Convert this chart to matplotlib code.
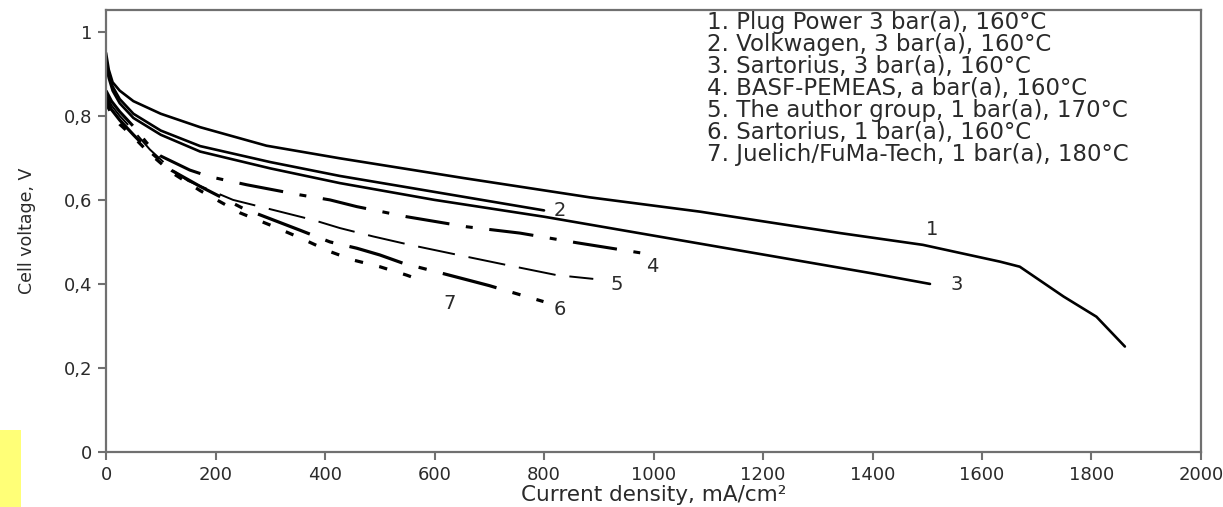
import numpy as np
import matplotlib
matplotlib.use("Agg")
import matplotlib.pyplot as plt
from matplotlib.patches import Rectangle

# --- datos (densidad de corriente mA/cm2, voltaje V) ---
x1 = [0, 5, 12, 25, 50, 100, 172, 293, 427, 653, 884, 1085, 1230, 1341, 1492, 1633, 1669, 1749, 1809, 1861]
y1 = [0.95, 0.91, 0.88, 0.86, 0.835, 0.805, 0.773, 0.729, 0.699, 0.652, 0.606, 0.572, 0.543, 0.521, 0.493, 0.453, 0.441, 0.370, 0.322, 0.251]

x2 = [0, 5, 12, 25, 50, 100, 172, 300, 427, 550, 650, 800]
y2 = [0.93, 0.90, 0.87, 0.84, 0.805, 0.765, 0.728, 0.69, 0.657, 0.63, 0.608, 0.575]

x3 = [0, 5, 12, 25, 50, 100, 172, 300, 427, 600, 800, 1000, 1200, 1400, 1505]
y3 = [0.92, 0.89, 0.86, 0.83, 0.795, 0.755, 0.715, 0.675, 0.640, 0.60, 0.56, 0.515, 0.47, 0.425, 0.40]

x4 = [0, 10, 25, 50, 75, 99, 153, 190, 257, 354, 409, 458, 549, 659, 756, 860, 1000]
y4 = [0.86, 0.835, 0.81, 0.775, 0.735, 0.705, 0.671, 0.655, 0.636, 0.612, 0.60, 0.584, 0.560, 0.536, 0.521, 0.498, 0.469]

x5 = [0, 10, 25, 50, 80, 120, 150, 232, 318, 379, 427, 488, 555, 643, 732, 823, 890]
y5 = [0.85, 0.825, 0.80, 0.765, 0.72, 0.672, 0.645, 0.60, 0.572, 0.552, 0.533, 0.513, 0.493, 0.469, 0.445, 0.421, 0.412]

x6 = [0, 10, 25, 50, 80, 120, 172, 250, 300, 354, 409, 458, 500, 543, 600, 659, 700, 744, 799]
y6 = [0.84, 0.815, 0.79, 0.755, 0.715, 0.67, 0.632, 0.58, 0.555, 0.528, 0.50, 0.485, 0.469, 0.449, 0.43, 0.41, 0.396, 0.379, 0.358]

x7 = [0, 10, 25, 50, 80, 120, 172, 245, 300, 354, 409, 451, 500, 549, 564]
y7 = [0.83, 0.805, 0.78, 0.75, 0.71, 0.665, 0.622, 0.569, 0.54, 0.51, 0.477, 0.457, 0.441, 0.421, 0.414]

leyenda = [
    "1. Plug Power 3 bar(a), 160°C",
    "2. Volkwagen, 3 bar(a), 160°C",
    "3. Sartorius, 3 bar(a), 160°C",
    "4. BASF-PEMEAS, a bar(a), 160°C",
    "5. The author group, 1 bar(a), 170°C",
    "6. Sartorius, 1 bar(a), 160°C",
    "7. Juelich/FuMa-Tech, 1 bar(a), 180°C",
]

# posiciones de los numeros junto a cada curva
etiquetas = ["1", "2", "3", "4", "5", "6", "7"]
etiq_x = [1508, 829, 1554, 997, 933, 829, 627]
etiq_y = [0.530, 0.574, 0.398, 0.441, 0.398, 0.338, 0.354]

xticks = list(range(0, 2001, 200))
yticks = [0, 0.2, 0.4, 0.6, 0.8, 1.0]
ytick_labels = ["0", "0,2", "0,4", "0,6", "0,8", "1"]

# --- estilo ---
plt.rcParams['font.family'] = ['DejaVu Sans']
plt.rcParams['lines.scale_dashes'] = False
texto = '#2a2a2a'
eje = '#707070'

fig = plt.figure(figsize=(12.23, 5.07), dpi=100)
ax = fig.add_axes([0.0867, 0.1085, 0.8953, 0.8718])

ax.plot(x1, y1, color='black', lw=1.9, solid_capstyle='round')
ax.plot(x2, y2, color='black', lw=1.9, solid_capstyle='round')
ax.plot(x3, y3, color='black', lw=1.9, solid_capstyle='round')
ax.plot(x4, y4, color='black', lw=2.2, linestyle=(0, (32, 12, 5, 12)))
ax.plot(x5, y5, color='black', lw=1.4, linestyle=(0, (27, 10)))
ax.plot(x6, y6, color='black', lw=2.3, linestyle=(0, (40, 12, 6, 12)))
ax.plot(x7, y7, color='black', lw=2.3, linestyle=(0, (6, 12)))

for t, xx, yy in zip(etiquetas, etiq_x, etiq_y):
    ax.text(xx, yy, t, fontsize=14, color=texto, ha='center', va='center')

for i, linea in enumerate(leyenda):
    fig.text(707 / 1223, 1 - (23 + 22 * i) / 507, linea, fontsize=16.5,
             color=texto, ha='left', va='center')

ax.set_xlim(0, 2000)
ax.set_ylim(0, 1.052)
ax.set_xticks(xticks)
ax.set_yticks(yticks)
ax.set_yticklabels(ytick_labels)
ax.tick_params(axis='both', direction='out', length=6, width=1.5, color=eje,
               labelsize=13, labelcolor=texto, pad=4)
for s in ax.spines.values():
    s.set_color(eje)
    s.set_linewidth(1.6)

ax.set_xlabel("Current density, mA/cm²", fontsize=15.5, color=texto, labelpad=1)
ax.set_ylabel("Cell voltage, V", fontsize=12.5, color=texto, labelpad=20)

# recuadro amarillo en la esquina inferior izquierda
fig.patches.append(Rectangle((0, 0), 21 / 1223, 77 / 507, transform=fig.transFigure,
                             facecolor='#ffff77', edgecolor='none', zorder=0))

fig.savefig("out.png", dpi=100)
